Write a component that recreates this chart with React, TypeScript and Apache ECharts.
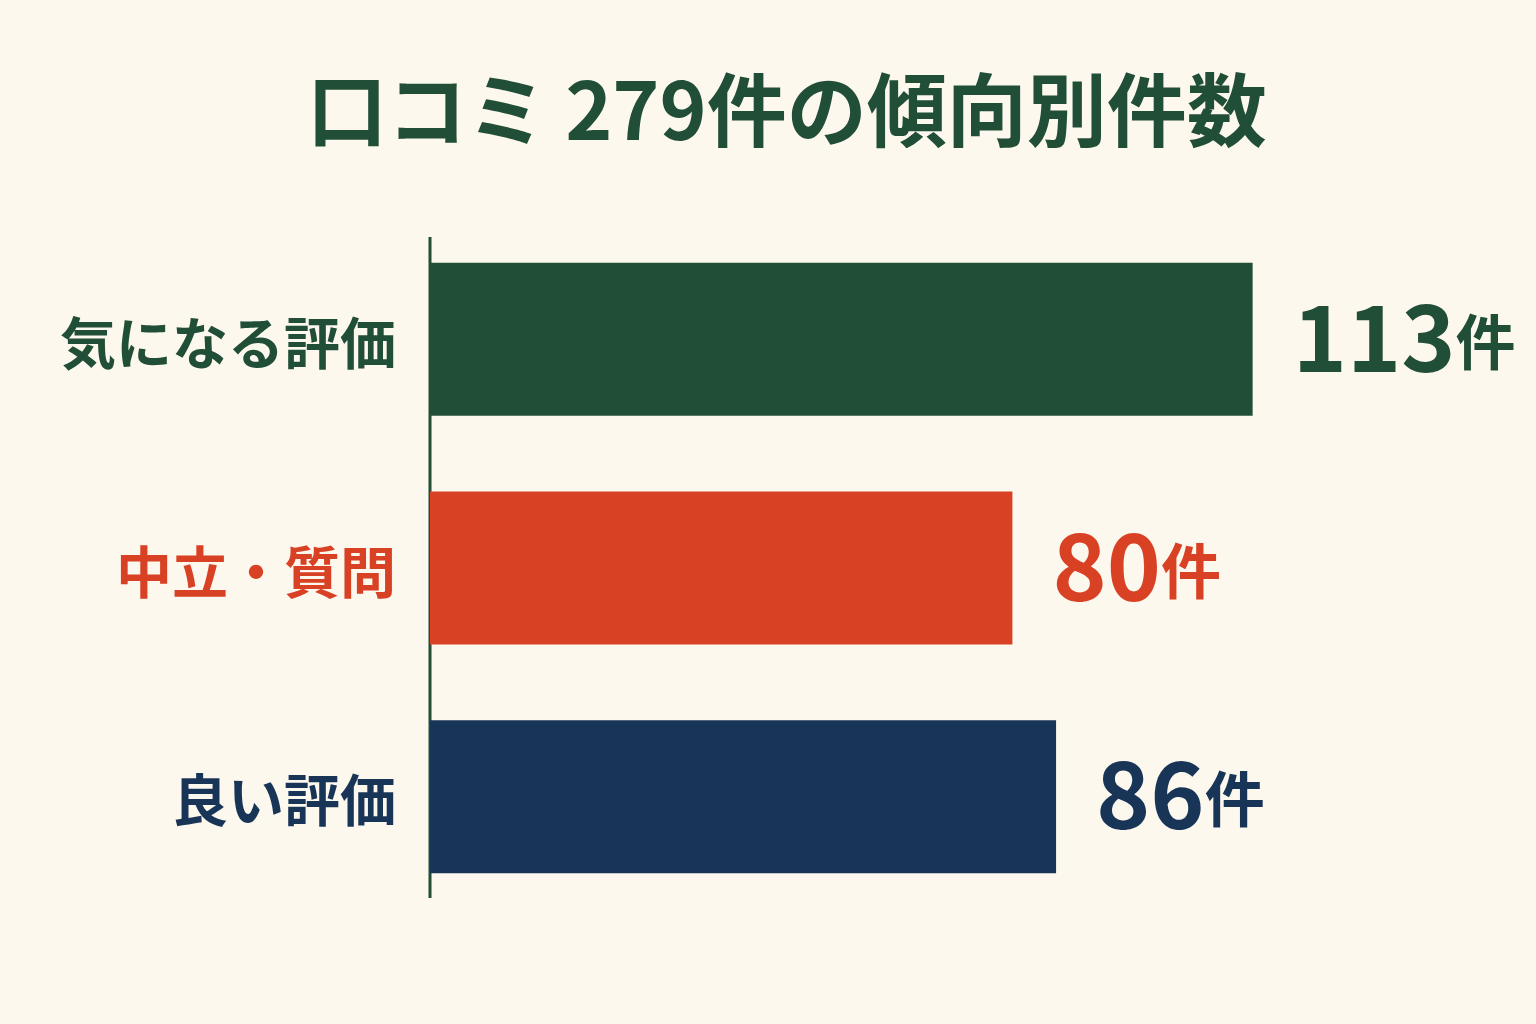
import { useEffect, useRef } from 'react';
import * as echarts from 'echarts';

const categories = ['気になる評価', '中立・質問', '良い評価'];
const counts = [113, 80, 86];
const colors = ['#214e36', '#d94125', '#183558'];
const titleText = '口コミ 279件の傾向別件数';
const unit = '件';

const FONT = '"Noto Sans CJK JP", "Noto Sans", sans-serif';

export default function App() {
  const chartRef = useRef<HTMLDivElement>(null);

  useEffect(() => {
    if (!chartRef.current) return;
    const chart = echarts.init(chartRef.current, null, { renderer: 'svg' });

    const option: echarts.EChartsOption = {
      animation: false,
      backgroundColor: '#fdf8ee',
      title: {
        text: titleText,
        left: 302,
        top: 60,
        textStyle: {
          fontFamily: FONT,
          fontSize: 80,
          fontWeight: 'bold',
          color: '#214e36',
        },
      },
      grid: {
        left: 430,
        right: 14,
        top: 225,
        height: 686,
        containLabel: false,
      },
      xAxis: {
        type: 'value',
        min: 0,
        max: 150,
        show: false,
      },
      yAxis: {
        type: 'category',
        data: categories,
        inverse: true,
        axisLine: { show: false },
        axisTick: { show: false },
        axisLabel: {
          margin: 34,
          padding: [0, 0, 16, 0],
          fontFamily: FONT,
          fontSize: 56,
          fontWeight: 'bold',
          color: (_v: any, i: number) => colors[i],
        },
      },
      graphic: [
        {
          type: 'line',
          shape: { x1: 430, y1: 237, x2: 430, y2: 898 },
          style: { stroke: '#214e36', lineWidth: 3 },
        },
      ],
      series: [
        {
          type: 'bar',
          barWidth: 153,
          data: counts.map((v, i) => ({
            value: v,
            itemStyle: { color: colors[i] },
            label: {
              rich: {
                n: { fontFamily: FONT, fontSize: 92, fontWeight: 'bold', color: colors[i] },
                u: { fontFamily: FONT, fontSize: 60, fontWeight: 'bold', color: colors[i], padding: [14, 0, 0, 0] },
              },
            },
          })),
          label: {
            show: true,
            position: 'right',
            distance: 40,
            offset: [0, -8],
            formatter: (p: any) => `{n|${p.value}}{u|${unit}}`,
          },
        },
      ],
    };

    chart.setOption(option);
    return () => chart.dispose();
  }, []);

  return (
    <div
      ref={chartRef}
      style={{ position: 'absolute', left: 0, top: 0, width: 1536, height: 1024 }}
    />
  );
}
